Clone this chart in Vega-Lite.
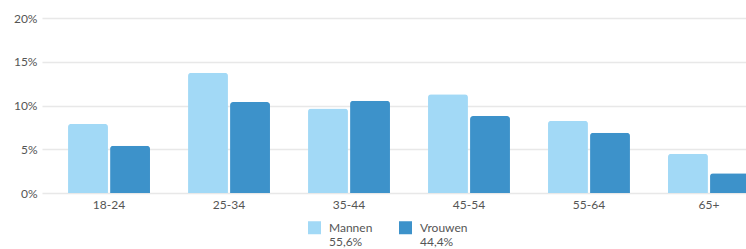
{
  "$schema": "https://vega.github.io/schema/vega-lite/v6.json",
  "autosize": {"type": "none"},
  "padding": {"left": 42, "top": 18, "right": 0, "bottom": 56},
  "width": 734,
  "height": 175,
  "background": "white",
  "config": {
    "view": {"stroke": null},
    "font": "Lato",
    "axis": {"labelFont": "Lato", "labelFontSize": 12, "labelColor": "#555555"}
  },
  "data": {
    "values": [
      {"age": "18-24", "gender": "Mannen", "pct": 7.9},
      {"age": "18-24", "gender": "Vrouwen", "pct": 5.4},
      {"age": "25-34", "gender": "Mannen", "pct": 13.75},
      {"age": "25-34", "gender": "Vrouwen", "pct": 10.4},
      {"age": "35-44", "gender": "Mannen", "pct": 9.65},
      {"age": "35-44", "gender": "Vrouwen", "pct": 10.55},
      {"age": "45-54", "gender": "Mannen", "pct": 11.3},
      {"age": "45-54", "gender": "Vrouwen", "pct": 8.8},
      {"age": "55-64", "gender": "Mannen", "pct": 8.25},
      {"age": "55-64", "gender": "Vrouwen", "pct": 6.9},
      {"age": "65+", "gender": "Mannen", "pct": 4.5},
      {"age": "65+", "gender": "Vrouwen", "pct": 2.25}
    ]
  },
  "mark": {"type": "bar", "cornerRadiusTopLeft": 3, "cornerRadiusTopRight": 3},
  "encoding": {
    "x": {
      "field": "age", "type": "nominal", "sort": null,
      "scale": {"paddingInner": 0.317, "paddingOuter": 0.217},
      "axis": {"title": null, "labelAngle": 0, "ticks": false, "domain": false, "labelPadding": 6}
    },
    "xOffset": {"field": "gender", "scale": {"paddingInner": 0.05}},
    "y": {
      "field": "pct", "type": "quantitative",
      "scale": {"domain": [0, 20]},
      "axis": {"title": null, "values": [0, 5, 10, 15, 20], "labelExpr": "datum.value + '%'", "ticks": false, "domain": false, "labelPadding": 5, "gridColor": "#e8e8e8", "gridWidth": 1.5}
    },
    "color": {
      "field": "gender", "type": "nominal",
      "scale": {"domain": ["Mannen", "Vrouwen"], "range": ["#a2d9f6", "#3d92ca"]},
      "legend": {
        "title": null, "orient": "none", "direction": "horizontal",
        "legendX": 266, "legendY": 203,
        "symbolType": "square", "symbolSize": 169, "symbolStrokeWidth": 0,
        "labelFont": "Lato", "labelFontSize": 12, "labelColor": "#555555",
        "labelBaseline": "middle", "labelOffset": 8,
        "columnPadding": 26,
        "labelExpr": "datum.label == 'Mannen' ? ['Mannen', '55,6%'] : ['Vrouwen', '44,4%']"
      }
    }
  }
}
